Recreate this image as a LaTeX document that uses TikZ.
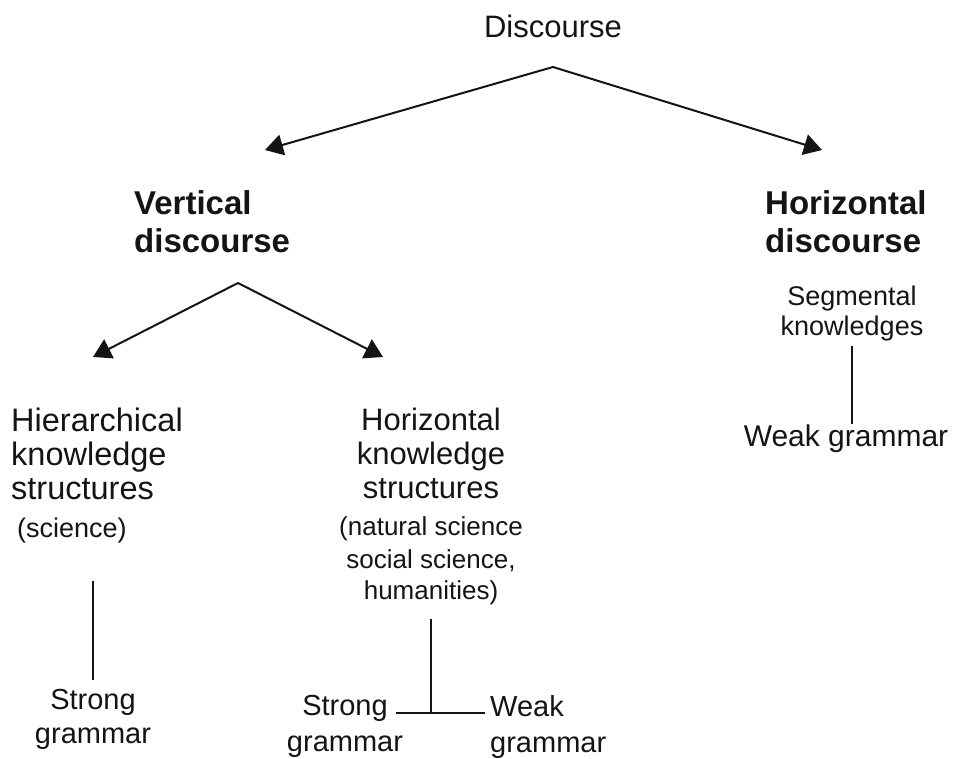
\documentclass[tikz,border=0pt]{standalone}
\usepackage{fontspec}
\setmainfont{Liberation Sans}
\usetikzlibrary{arrows.meta,positioning,calc}
\definecolor{ink}{HTML}{141414}
\tikzset{
  lbl/.style={inner sep=0pt,text=ink,font=\fontsize{31}{34}\selectfont},
  lblhead/.style={lbl,align=left,font=\bfseries\fontsize{33}{38}\selectfont},
  lblsm/.style={lbl,align=center,font=\fontsize{27}{30}\selectfont},
  lblgr/.style={lbl,font=\fontsize{29}{34}\selectfont},
  ar/.style={{Triangle[length=18pt,width=21pt]}-{Triangle[length=18pt,width=21pt]},draw=ink,line width=2pt,line join=round},
  ln/.style={draw=ink,line width=1.6pt},
  lnh/.style={draw=ink,line width=1.2pt},
}
\newcommand{\smtext}{\fontsize{26}{32}\selectfont}
\begin{document}
\begin{tikzpicture}[x=1pt,y=1pt]
  \useasboundingbox (0,0) rectangle (959,-759);
  % top level
  \node[lbl,anchor=north] (disc) at (553,-15) {Discourse};
  \node[lblhead,anchor=north west] (vd) at (134,-190) {Vertical\\discourse};
  \node[lblhead,anchor=north west] (hd) at (765,-190) {Horizontal\\discourse};
  \coordinate (apex) at (553,-67);
  \coordinate (vtip) at (265,-150);
  \coordinate (htip) at (822,-150);
  \draw[ar] (vtip) -- (apex) -- (htip);
  % horizontal discourse branch
  \node[lblsm,anchor=north] (seg) at (852,-286) {Segmental\\knowledges};
  \node[lbl,font=\fontsize{30}{32}\selectfont,anchor=north] (wr) at (846,-425) {Weak grammar};
  \draw[ln,shorten <=4pt,shorten >=1pt] (seg.south) -- (seg.south |- wr.north);
  % vertical discourse branch
  \coordinate (vapex) at (238,-283);
  \coordinate (ltip) at (93,-357);
  \coordinate (rtip) at (383,-357);
  \draw[ar] (ltip) -- (vapex) -- (rtip);
  \node[lbl,align=left,anchor=north west,font=\fontsize{32.5}{34}\selectfont] (hier) at (11,-408)
    {Hierarchical\\knowledge\\structures\\[4pt]{\fontsize{27}{27}\selectfont\hspace*{6pt}(science)}};
  \node[lbl,align=center,anchor=north] (hks) at (431,-408)
    {Horizontal\\knowledge\\structures\\[3pt]{\smtext(natural science}\\[-1pt]{\smtext social science,}\\[-3pt]{\smtext humanities)}};
  \node[lblgr,align=center,anchor=north] (sgl) at (93,-689) {Strong\\grammar};
  \draw[ln,shorten <=37pt,shorten >=9pt] (hier.south -| sgl.north) -- (sgl.north);
  \node[lblgr,align=center,anchor=north,font=\fontsize{29}{36}\selectfont] (sgm) at (345,-695) {Strong\\grammar};
  \node[lblgr,align=left,anchor=north west,font=\fontsize{29}{36}\selectfont] (wkm) at (490,-695) {Weak\\grammar};
  \coordinate (jn) at (431,-713);
  \draw[ln,shorten <=14pt] (hks.south) -- (jn);
  \draw[lnh,shorten <=-7pt,shorten >=5pt] (sgm.east |- jn) -- (wkm.west |- jn);
\end{tikzpicture}
\end{document}
